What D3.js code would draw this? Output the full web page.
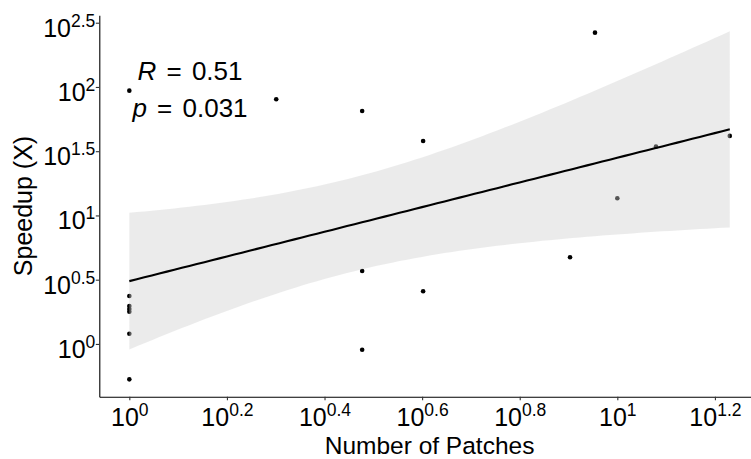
<!DOCTYPE html>
<html>
<head>
<meta charset="utf-8">
<script src="https://cdn.jsdelivr.net/npm/d3@7"></script>
<style>
  html, body { margin: 0; padding: 0; background: #fff; }
  svg { display: block; font-family: "Liberation Sans", Arial, Helvetica, sans-serif; }
</style>
</head>
<body>
<svg id="chart" width="751" height="459"></svg>
<script>
// ---- data ----
const patches = [1, 1, 1, 1, 1, 1, 1, 2, 3, 3, 3, 4, 4, 8, 9, 10, 12, 17];
const speedup = [93.6, 2.36, 1.97, 1.87, 1.78, 1.20, 0.53, 80.2, 65, 3.70, 0.90, 38, 2.57, 4.73, 264.7, 13.6, 34.3, 41.6];
const xTickExponents = ["0", "0.2", "0.4", "0.6", "0.8", "1", "1.2"];
const yTickExponents = ["0", "0.5", "1", "1.5", "2", "2.5"];
const statLines = [["R", " = 0.51"], ["p", " = 0.031"]];
const xTitle = "Number of Patches";
const yTitle = "Speedup (X)";
const tCrit = 2.1199; // t(0.975, df = 16)

// ---- layout ----
const panel = { left: 99.3, right: 759.8, top: 15.3, bottom: 396.7 };
const svg = d3.select("#chart");

const lx = patches.map(Math.log10);
const ly = speedup.map(Math.log10);
function expand(ext) { const r = ext[1] - ext[0]; return [ext[0] - 0.05 * r, ext[1] + 0.05 * r]; }
const xDomLog = expand(d3.extent(lx));
const yDomLog = expand(d3.extent(ly));

const x = d3.scaleLog().domain(xDomLog.map(v => Math.pow(10, v))).range([panel.left, panel.right]);
const y = d3.scaleLog().domain(yDomLog.map(v => Math.pow(10, v))).range([panel.bottom, panel.top]);

// ---- linear regression in log-log space ----
const n = lx.length;
const mx = d3.mean(lx), my = d3.mean(ly);
let sxx = 0, sxy = 0, syy = 0;
for (let i = 0; i < n; i++) { sxx += (lx[i]-mx)**2; sxy += (lx[i]-mx)*(ly[i]-my); syy += (ly[i]-my)**2; }
const slope = sxy / sxx, icpt = my - slope * mx;
const s = Math.sqrt((syy - slope * sxy) / (n - 2));
const [x0, x1] = d3.extent(lx);
const band = d3.range(0, 81).map(i => {
  const xv = x0 + (x1 - x0) * i / 80;
  const fit = icpt + slope * xv;
  const se = s * Math.sqrt(1 / n + (xv - mx) ** 2 / sxx);
  return { x: Math.pow(10, xv), fit: Math.pow(10, fit), lo: Math.pow(10, fit - tCrit * se), hi: Math.pow(10, fit + tCrit * se) };
});

// ---- points (drawn under the ribbon like geom_smooth after geom_point) ----
svg.append("g").selectAll("circle").data(patches).join("circle")
  .attr("cx", (d, i) => x(patches[i]))
  .attr("cy", (d, i) => y(speedup[i]))
  .attr("r", 2.3)
  .attr("fill", "#000");

// ribbon
svg.append("path").datum(band)
  .attr("d", d3.area().x(d => x(d.x)).y0(d => y(d.lo)).y1(d => y(d.hi)))
  .attr("fill", "rgb(207,207,207)")
  .attr("fill-opacity", 0.41);

// fit line
svg.append("path").datum(band)
  .attr("d", d3.line().x(d => x(d.x)).y(d => y(d.fit)))
  .attr("fill", "none").attr("stroke", "#000").attr("stroke-width", 2.1);

// ---- axes ----
const xAxis = d3.axisBottom(x)
  .tickValues(xTickExponents.map(e => Math.pow(10, +e)))
  .tickFormat("").tickSizeOuter(0).tickSizeInner(3.5);
const gx = svg.append("g").attr("transform", `translate(0,${panel.bottom})`).call(xAxis);
gx.select(".domain").attr("stroke", "#000").attr("stroke-width", 1.1);
gx.selectAll(".tick line").attr("stroke", "#333").attr("stroke-width", 1.1);
gx.selectAll(".tick").each(function(d, i) {
  const t = d3.select(this).append("text")
    .attr("y", 29.5).attr("text-anchor", "middle")
    .attr("fill", "#000").style("font-size", "25px");
  t.append("tspan").text("10");
  t.append("tspan").attr("dy", -10).style("font-size", "17.5px").text(xTickExponents[i]);
});

const yAxis = d3.axisLeft(y)
  .tickValues(yTickExponents.map(e => Math.pow(10, +e)))
  .tickFormat("").tickSizeOuter(0).tickSizeInner(3.5);
const gy = svg.append("g").attr("transform", `translate(${panel.left},0)`).call(yAxis);
gy.select(".domain").attr("stroke", "#000").attr("stroke-width", 1.1);
gy.selectAll(".tick line").attr("stroke", "#333").attr("stroke-width", 1.1);
gy.selectAll(".tick").each(function(d, i) {
  const t = d3.select(this).append("text")
    .attr("x", -4).attr("y", 13.5).attr("text-anchor", "end")
    .attr("fill", "#000").style("font-size", "25px");
  t.append("tspan").text("10");
  t.append("tspan").attr("dy", -10).style("font-size", "17.5px").text(yTickExponents[i]);
});
gx.attr("font-family", null).attr("font-size", null);
gy.attr("font-family", null).attr("font-size", null);

// ---- titles ----
svg.append("text")
  .attr("x", (panel.left + panel.right) / 2).attr("y", 454)
  .attr("text-anchor", "middle").style("font-size", "24.5px").attr("fill", "#000")
  .text(xTitle);
svg.append("text")
  .attr("transform", `translate(32,${(panel.top + panel.bottom) / 2}) rotate(-90)`)
  .attr("text-anchor", "middle").style("font-size", "25px").attr("fill", "#000")
  .text(yTitle);

// ---- R / p annotation ----
const ann = svg.append("g");
statLines.forEach((ln, i) => {
  const t = ann.append("text")
    .attr("x", 190).attr("y", 80 + i * 36.7)
    .attr("text-anchor", "middle").style("font-size", "26px").attr("fill", "#000")
    .style("word-spacing", "3px");
  t.append("tspan").style("font-style", "italic").text(ln[0]);
  t.append("tspan").text(ln[1]);
});
</script>
</body>
</html>
